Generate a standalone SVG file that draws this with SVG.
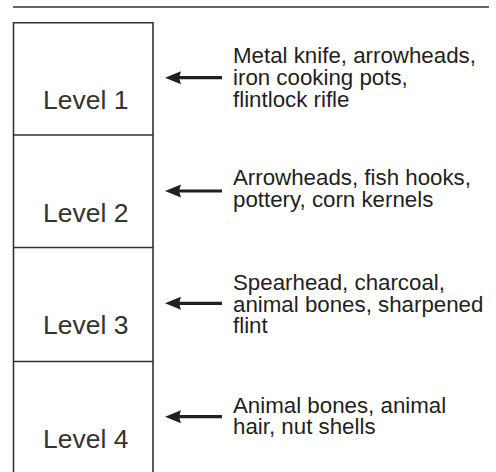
<svg xmlns="http://www.w3.org/2000/svg" width="496" height="472" viewBox="0 0 496 472">
<defs>
<path id="head" d="M0,0 L16,-6.5 L14,0 L16,6.5 Z" fill="#231f20"/>
<style>
.ln{stroke:#333;stroke-width:1.6;fill:none}
.lvl{font-family:"Liberation Sans",Arial,sans-serif;font-size:26.5px;fill:#333}
.lbl{font-family:"Liberation Sans",Arial,sans-serif;font-size:22.3px;fill:#231f20}
.arr{stroke:#231f20;stroke-width:3.2;fill:none}
</style>
</defs>
<rect width="496" height="472" fill="#fff"/>
<line class="ln" x1="13" y1="7" x2="489" y2="7"/>
<g id="column">
<path class="ln" d="M13.5,474 V22.7 H153 V474"/>
</g>
<g id="level1">
<line class="ln" x1="13.5" y1="135" x2="153" y2="135"/>
<text class="lvl" x="43" y="109.3">Level 1</text>
</g>
<g id="level2">
<line class="ln" x1="13.5" y1="247.5" x2="153" y2="247.5"/>
<text class="lvl" x="43" y="222.3">Level 2</text>
</g>
<g id="level3">
<line class="ln" x1="13.5" y1="361.5" x2="153" y2="361.5"/>
<text class="lvl" x="43" y="334">Level 3</text>
</g>
<g id="level4">
<text class="lvl" x="43" y="448">Level 4</text>
</g>
<g id="label1">
<text class="lbl" x="233" y="63.3">Metal knife, arrowheads,<tspan x="233" dy="21.7">iron cooking pots,</tspan><tspan x="233" dy="21.7">flintlock rifle</tspan></text>
</g>
<g id="label2">
<text class="lbl" x="233" y="185">Arrowheads, fish hooks,<tspan x="233" dy="21.7">pottery, corn kernels</tspan></text>
</g>
<g id="label3">
<text class="lbl" x="233" y="290">Spearhead, charcoal,<tspan x="233" dy="21.7">animal bones, sharpened</tspan><tspan x="233" dy="21.7">flint</tspan></text>
</g>
<g id="label4">
<text class="lbl" x="233" y="412.7">Animal bones, animal<tspan x="233" dy="21.7">hair, nut shells</tspan></text>
</g>
<g id="connectors">
<line class="arr" x1="178" y1="77.7" x2="222" y2="77.7"/>
<use href="#head" x="165" y="77.7"/>
<line class="arr" x1="178" y1="191" x2="222" y2="191"/>
<use href="#head" x="165" y="191"/>
<line class="arr" x1="178" y1="303.3" x2="222" y2="303.3"/>
<use href="#head" x="165" y="303.3"/>
<line class="arr" x1="178" y1="416.7" x2="222" y2="416.7"/>
<use href="#head" x="165" y="416.7"/>
</g>
</svg>
